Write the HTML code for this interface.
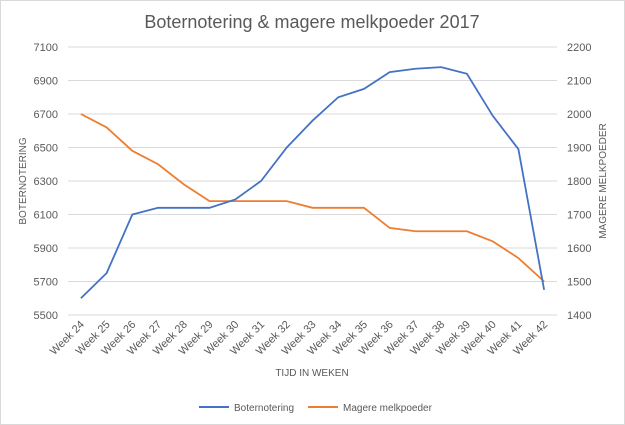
<!DOCTYPE html>
<html><head><meta charset="utf-8"><style>
body{margin:0;background:#fff;}
svg{display:block;font-family:"Liberation Sans",sans-serif;}
</style></head><body>
<svg id="c" width="625" height="425" viewBox="0 0 625 425">
<rect x="0.5" y="0.5" width="624" height="424" fill="#fff" stroke="#d9d9d9"/>
<text x="312" y="28" text-anchor="middle" font-size="18" fill="#595959">Boternotering &amp; magere melkpoeder 2017</text>
<g id="g"></g>
<text x="312" y="376" text-anchor="middle" font-size="10" fill="#595959">TIJD IN WEKEN</text>
<text transform="translate(26,181) rotate(-90)" text-anchor="middle" font-size="10" fill="#595959">BOTERNOTERING</text>
<text transform="translate(606,181) rotate(-90)" text-anchor="middle" font-size="10" fill="#595959">MAGERE MELKPOEDER</text>
<line x1="199" y1="407" x2="229" y2="407" stroke="#4472c4" stroke-width="2"/>
<text x="234" y="411" font-size="10" fill="#595959">Boternotering</text>
<line x1="308" y1="407" x2="338" y2="407" stroke="#ed7d31" stroke-width="2"/>
<text x="343" y="411" font-size="10" fill="#595959">Magere melkpoeder</text>
</svg>
<script>
var g=document.getElementById('g'),s='';
var T=47,B=315,L=68,R=557;
for(var i=0;i<=8;i++){var y=T+i*(B-T)/8;
s+='<line x1="'+L+'" x2="'+R+'" y1="'+y+'" y2="'+y+'" stroke="#d9d9d9" stroke-width="1"/>';
s+='<text x="58" y="'+(y+4)+'" text-anchor="end" font-size="11" fill="#595959">'+(7100-i*200)+'</text>';
s+='<text x="567" y="'+(y+4)+'" font-size="11" fill="#595959">'+(2200-i*100)+'</text>';}
var b=[5600,5750,6100,6140,6140,6140,6190,6300,6500,6660,6800,6850,6950,6970,6980,6940,6690,6490,5650];
var m=[2000,1960,1890,1850,1790,1740,1740,1740,1740,1720,1720,1720,1660,1650,1650,1650,1620,1570,1500];
var sp=(R-L)/19,pb='',pm='';
for(var i=0;i<19;i++){var x=L+sp*(i+0.5);
pb+=x+','+(T+(7100-b[i])/1600*(B-T))+' ';
pm+=x+','+(T+(2200-m[i])/800*(B-T))+' ';
s+='<text transform="translate('+(x+4)+',325) rotate(-45)" text-anchor="end" font-size="11" fill="#595959">Week '+(24+i)+'</text>';}
s+='<polyline points="'+pm+'" fill="none" stroke="#ed7d31" stroke-width="1.8"/>';
s+='<polyline points="'+pb+'" fill="none" stroke="#4472c4" stroke-width="1.8"/>';
g.innerHTML=s;
</script>
</body></html>
